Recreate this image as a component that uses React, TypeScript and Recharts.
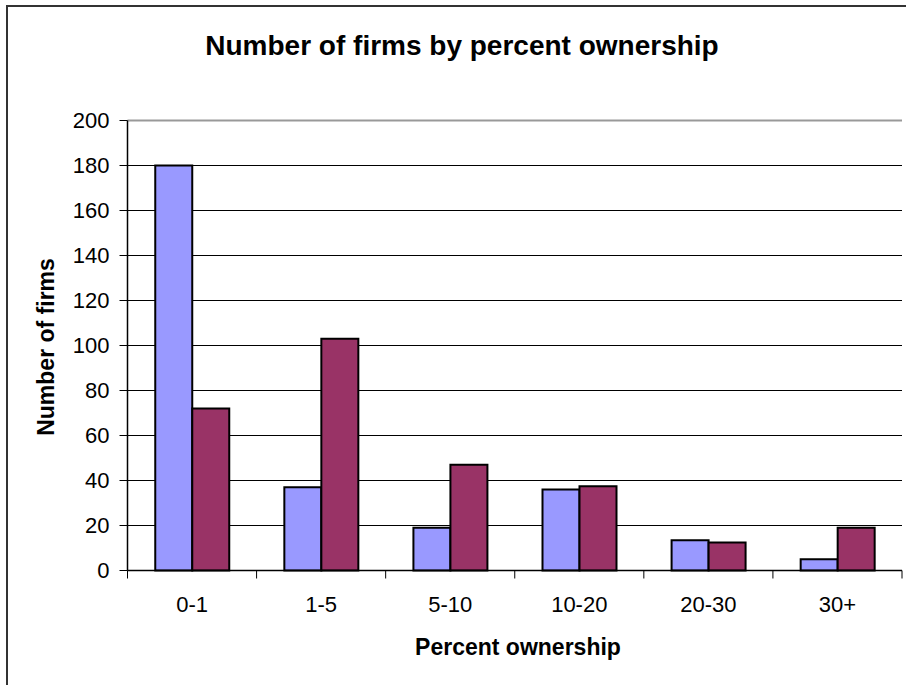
import React from 'react';
import { BarChart, Bar, XAxis, YAxis, CartesianGrid, ReferenceLine } from 'recharts';

const categories = ['0-1', '1-5', '5-10', '10-20', '20-30', '30+'];
const seriesA = [180, 37, 19, 36, 13.5, 5];
const seriesB = [72, 103, 47, 37.5, 12.5, 19];
const yTicks = [0, 20, 40, 60, 80, 100, 120, 140, 160, 180, 200];
const gridTicks = [20, 40, 60, 80, 100, 120, 140, 160, 180];
const boundaryTicks = [0, 1, 2, 3, 4, 5, 6];

const title = 'Number of firms by percent ownership';
const xTitle = 'Percent ownership';
const yTitle = 'Number of firms';

const data = categories.map((c, i) => ({ cat: c, idx: i + 0.5, a: seriesA[i], b: seriesB[i] }));

const FONT = '"Liberation Sans", Arial, sans-serif';

export default function App() {
  return (
    <div style={{ position: 'absolute', left: 0, top: 0, width: 906, height: 685, overflow: 'hidden', background: '#fff', fontFamily: FONT }}>
      <div style={{ position: 'absolute', left: 6, top: 5, width: 1200, height: 1200, borderLeft: '2px solid #333', borderTop: '2px solid #333' }} />
      <BarChart
        width={906}
        height={685}
        data={data}
        margin={{ top: 120.5, right: 4, bottom: 0, left: 0.5 }}
        barCategoryGap="21.5%"
        barGap={0}
        style={{ position: 'absolute', left: 0, top: 0 }}
      >
        <CartesianGrid horizontal={true} vertical={false} horizontalValues={gridTicks} stroke="#000" strokeWidth={1} strokeOpacity={1} />
        <XAxis
          xAxisId={0}
          type="number"
          dataKey="idx"
          domain={[0, 6]}
          ticks={boundaryTicks}
          height={1}
          axisLine={{ stroke: '#000', strokeWidth: 1.5 }}
          tickLine={{ stroke: '#000', strokeWidth: 1 }}
          tickSize={8}
          tickFormatter={() => ''}
          allowDataOverflow
        />
        <XAxis
          xAxisId={1}
          dataKey="cat"
          type="category"
          height={113.5}
          axisLine={false}
          tickLine={false}
          tickSize={8}
          tickMargin={17}
          interval={0}
          tick={{ fill: '#000', fontSize: 22, fontFamily: FONT }}
        />
        <YAxis
          yAxisId={0}
          width={127}
          domain={[0, 200]}
          ticks={yTicks}
          interval={0}
          axisLine={{ stroke: '#000', strokeWidth: 1.5 }}
          tickLine={{ stroke: '#000', strokeWidth: 1 }}
          tickSize={8}
          tickMargin={10}
          tick={{ fill: '#000', fontSize: 22, fontFamily: FONT }}
        />
        <YAxis
          yAxisId={1}
          orientation="right"
          width={0}
          domain={[0, 200]}
          tick={false}
          tickLine={false}
          axisLine={{ stroke: '#999', strokeWidth: 2 }}
        />
        <ReferenceLine y={200} yAxisId={0} xAxisId={1} stroke="#999" strokeWidth={2} />
        <Bar dataKey="a" name="Series 1" xAxisId={1} yAxisId={0} fill="#9999FF" stroke="#000" strokeWidth={2} isAnimationActive={false} />
        <Bar dataKey="b" name="Series 2" xAxisId={1} yAxisId={0} fill="#993366" stroke="#000" strokeWidth={2} isAnimationActive={false} />
      </BarChart>
      <svg width={906} height={685} style={{ position: 'absolute', left: 0, top: 0, pointerEvents: 'none' }}>
        <text x={462} y={55} textAnchor="middle" fontFamily={FONT} fontWeight="bold" fontSize={28} fill="#000">{title}</text>
        <text x={518} y={655} textAnchor="middle" fontFamily={FONT} fontWeight="bold" fontSize={23} fill="#000">{xTitle}</text>
        <text x={54} y={347} textAnchor="middle" fontFamily={FONT} fontWeight="bold" fontSize={23} fill="#000" transform="rotate(-90 54 347)">{yTitle}</text>
      </svg>
    </div>
  );
}
